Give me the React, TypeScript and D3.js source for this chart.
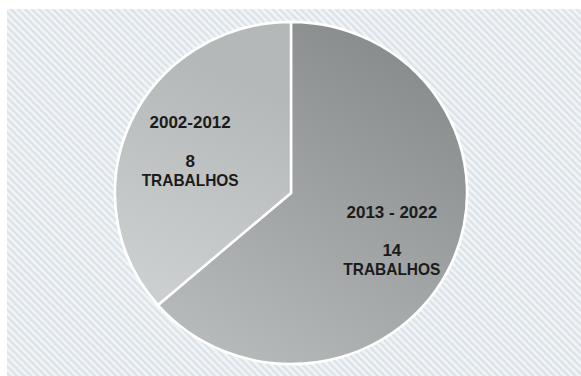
import React from "react";
import * as d3 from "d3";

const periods = ["2013 - 2022", "2002-2012"];
const counts = [14, 8];
const unitLabel = "TRABALHOS";

const W = 581;
const H = 376;

export default function App() {
  const cx = 291;
  const cy = 193;
  const rx = 176;
  const ry = 171;
  const data = periods.map((p, i) => ({ period: p, value: counts[i] }));
  const pie = d3.pie<any>().sort(null).value((d: any) => d.value);
  const arcs = pie(data);
  const arc = d3.arc<any>().innerRadius(0).outerRadius(rx);
  const labelArc = d3.arc<any>().innerRadius(rx * 0.63).outerRadius(rx * 0.63);
  const sy = ry / rx;
  const grads = ["gBig", "gSmall"];

  return (
    <svg
      width={W}
      height={H}
      style={{ position: "absolute", left: 0, top: 0, display: "block" }}
      fontFamily="'Liberation Sans', Arial, sans-serif"
    >
      <defs>
        <pattern id="hatch" patternUnits="userSpaceOnUse" width="5" height="5" patternTransform="rotate(-45)">
          <rect width="5" height="5" fill="#f2f5f7" />
          <rect width="2.4" height="5" fill="#dce3e8" />
        </pattern>
        <linearGradient id="gBig" gradientUnits="userSpaceOnUse" x1={cx + rx * 0.7} y1={cy - ry * 0.9} x2={cx - rx * 0.5} y2={cy + ry}>
          <stop offset="0" stopColor="#888b8b" />
          <stop offset="1" stopColor="#b9bcbc" />
        </linearGradient>
        <linearGradient id="gSmall" gradientUnits="userSpaceOnUse" x1={cx - rx * 0.2} y1={cy - ry} x2={cx - rx * 0.9} y2={cy + ry * 0.6}>
          <stop offset="0" stopColor="#b5b8b8" />
          <stop offset="1" stopColor="#d3d6d6" />
        </linearGradient>
      </defs>
      <rect x={7} y={9} width={W - 7} height={H - 9} fill="url(#hatch)" />
      <g transform={`translate(${cx},${cy}) scale(1,${sy})`}>
        <ellipse cx={0} cy={0} rx={rx + 1.5} ry={rx + 1.5} fill="#ffffff" opacity={0.8} />
        {arcs.map((a, i) => (
          <path
            key={i}
            d={arc(a) as string}
            fill={`url(#${grads[i]})`}
            stroke="#ffffff"
            strokeWidth={2.5}
            strokeLinejoin="round"
          />
        ))}
      </g>
      {arcs.map((a, i) => {
        const [lx, ly0] = labelArc.centroid(a);
        const x = cx + lx;
        const y = cy + ly0 * sy + 3;
        return (
          <g key={i} fontWeight="bold" fontSize={17} fill="#1b1b1b" textAnchor="middle">
            <text x={x} y={y - 23}>{a.data.period}</text>
            <text x={x} y={y + 15.5}>{a.data.value}</text>
            <text x={x} y={y + 34.5} textLength={97} lengthAdjust="spacingAndGlyphs">{unitLabel}</text>
          </g>
        );
      })}
    </svg>
  );
}
